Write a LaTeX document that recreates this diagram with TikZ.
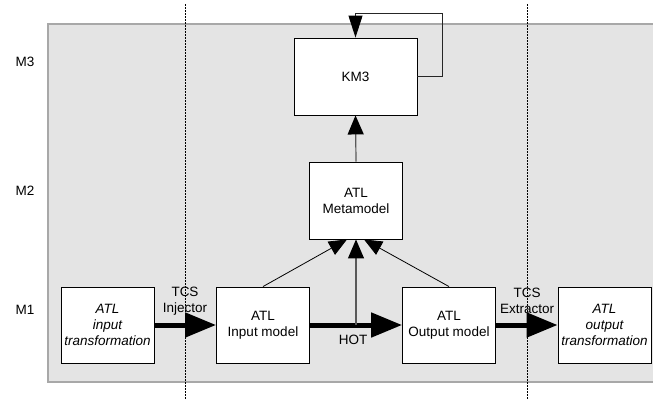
\documentclass[tikz,border=0pt]{standalone}
\usepackage{fontspec}
\setmainfont{Liberation Sans}
\usetikzlibrary{arrows.meta,calc}
\definecolor{bggray}{HTML}{E4E4E4}
\definecolor{bgline}{HTML}{A8A8A8}
\begin{document}
\begin{tikzpicture}[x=1pt,y=-1pt,
  font=\fontsize{13.5}{16}\selectfont,
  box/.style={draw=black,line width=0.9pt,fill=white,minimum width=93pt,minimum height=76pt,align=center,inner sep=1pt},
  conn/.style={line width=0.8pt,-{Triangle[length=18pt,width=15pt]}},
  vconn/.style={line width=1.2pt,draw=black!65,-{Triangle[length=19pt,width=16pt,black]}},
  loopconn/.style={line width=0.9pt,draw=black!85,-{Triangle[length=22pt,width=14pt,black]}},
  thick/.style={line width=5pt,-{Triangle[length=31pt,width=24pt]}},
  sep/.style={line width=0.8pt,dash pattern=on 1.5pt off 1.5pt},
  lvl/.style={anchor=center}]
\useasboundingbox (0,0) rectangle (653,400);
\fill[bggray] (48,24) rectangle (670,382);
\draw[bgline,line width=1.3pt] (670,24) -- (48,24) -- (48,382) -- (670,382);
\coordinate (s1t) at (185,4); \coordinate (s1b) at (185,400);
\coordinate (s2t) at (527,4); \coordinate (s2b) at (527,400);
\draw[sep] (s1t) -- (s1b);
\draw[sep] (s2t) -- (s2b);
\node[lvl] (m3) at (25,62) {M3};
\node[lvl] (m2) at (25,191) {M2};
\node[lvl] (m1) at (25,310) {M1};
\node[box,minimum width=123pt,minimum height=77pt] (km3) at (355.5,76.5) {KM3};
\node[box,minimum height=77pt] (meta) at (356,200.5) {ATL\\Metamodel};
\node[box] (intr) at (107.5,325) {\itshape ATL\\\itshape input\\\itshape transformation};
\node[box] (inm) at (263,325) {ATL\\Input model};
\node[box] (outm) at (449,325) {ATL\\Output model};
\node[box] (outtr) at (604.5,325) {\itshape ATL\\\itshape output\\\itshape transformation};
\coordinate (l1) at (442,76.5);
\coordinate (l2) at (442,13);
\draw[loopconn] (km3.east) -- (l1) -- (l2) -| (km3.north);
\draw[vconn] (meta.north) -- (km3.south);
\draw[thick] (intr.east) -- (inm.west);
\draw[thick] (inm.east) -- (outm.west);
\draw[thick] (outm.east) -- (outtr.west);
\coordinate (hotpt) at (356,325);
\draw[vconn] (hotpt) -- (meta.south);
\draw[conn] (inm.north) -- ($(meta.south)+(-9,0)$);
\draw[conn] (outm.north) -- ($(meta.south)+(8,0)$);
\node[align=center] (tcsi) at (185,301) {TCS\\Injector};
\node (hot) at (353,340) {HOT};
\node[align=center] (tcse) at (527,301) {TCS\\Extractor};
\end{tikzpicture}
\end{document}
